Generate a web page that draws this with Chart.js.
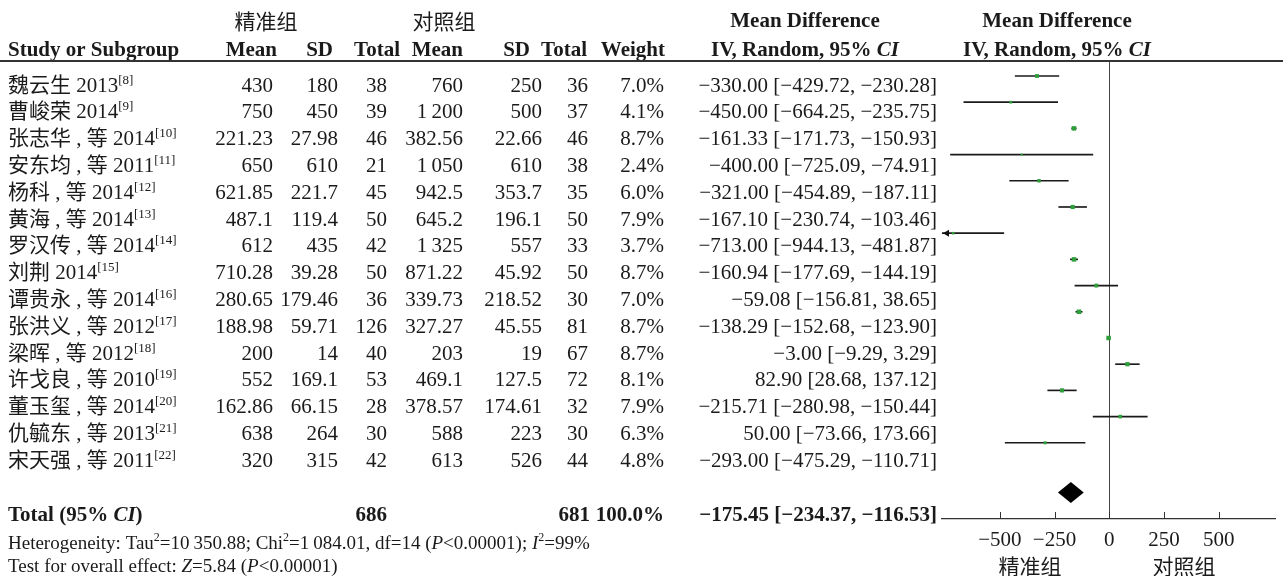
<!DOCTYPE html>
<html>
<head>
<meta charset="utf-8">
<script src="https://cdn.jsdelivr.net/npm/chart.js@4.4.1/dist/chart.umd.min.js"></script>
<style>
  html, body { margin: 0; padding: 0; background: #fff; }
  canvas { display: block; }
</style>
</head>
<body>
<canvas id="forest" width="1283" height="576"></canvas>
<script>
// ---- study data ----
const studies = ['魏云生 2013', '曹峻荣 2014', '张志华 , 等 2014', '安东均 , 等 2011', '杨科 , 等 2014',
  '黄海 , 等 2014', '罗汉传 , 等 2014', '刘荆 2014', '谭贵永 , 等 2014', '张洪义 , 等 2012',
  '梁晖 , 等 2012', '许戈良 , 等 2010', '董玉玺 , 等 2014', '仇毓东 , 等 2013', '宋天强 , 等 2011'];
const refs = [8, 9, 10, 11, 12, 13, 14, 15, 16, 17, 18, 19, 20, 21, 22];
const expMean = [430, 750, 221.23, 650, 621.85, 487.1, 612, 710.28, 280.65, 188.98, 200, 552, 162.86, 638, 320];
const expSD = [180, 450, 27.98, 610, 221.7, 119.4, 435, 39.28, 179.46, 59.71, 14, 169.1, 66.15, 264, 315];
const expN = [38, 39, 46, 21, 45, 50, 42, 50, 36, 126, 40, 53, 28, 30, 42];
const ctlMean = [760, 1200, 382.56, 1050, 942.5, 645.2, 1325, 871.22, 339.73, 327.27, 203, 469.1, 378.57, 588, 613];
const ctlSD = [250, 500, 22.66, 610, 353.7, 196.1, 557, 45.92, 218.52, 45.55, 19, 127.5, 174.61, 223, 526];
const ctlN = [36, 37, 46, 38, 35, 50, 33, 50, 30, 81, 67, 72, 32, 30, 44];
const weights = [7.0, 4.1, 8.7, 2.4, 6.0, 7.9, 3.7, 8.7, 7.0, 8.7, 8.7, 8.1, 7.9, 6.3, 4.8];
const meanDiff = [-330.00, -450.00, -161.33, -400.00, -321.00, -167.10, -713.00, -160.94, -59.08, -138.29, -3.00, 82.90, -215.71, 50.00, -293.00];
const ciLow = [-429.72, -664.25, -171.73, -725.09, -454.89, -230.74, -944.13, -177.69, -156.81, -152.68, -9.29, 28.68, -280.98, -73.66, -475.29];
const ciHigh = [-230.28, -235.75, -150.93, -74.91, -187.11, -103.46, -481.87, -144.19, 38.65, -123.90, 3.29, 137.12, -150.44, 173.66, -110.71];

// ---- pooled result ----
const totalExpN = 686;
const totalCtlN = 681;
const totalWeight = 100.0;
const pooledMD = -175.45;
const pooledLow = -234.37;
const pooledHigh = -116.53;
const tau2 = 10350.88;
const chi2 = 1084.01;
const dfHet = 14;
const i2 = 99;
const zValue = 5.84;

// ---- axis ----
const axisTicks = [-500, -250, 0, 250, 500];
const groupLabels = ['精准组', '对照组'];

// ---- layout ----
const SERIF = '"Liberation Serif", "Noto Sans CJK SC", serif';
const CJK = '"Noto Sans CJK SC", sans-serif';
const ROW_Y0 = 91.5, ROW_STEP = 26.8;
const COL = { mean1: 273, sd1: 338, n1: 387, mean2: 463, sd2: 542, n2: 588, w: 664, md: 937 };
const TOTAL_ROW_POS = 15.9;   // pooled diamond position on the row axis
const GREEN = '#2f9f3c';

const MINUS = '\u2212';
function groupThousands(s) {
  const [ip, dp] = s.split('.');
  const g = ip.length > 3 ? ip.slice(0, ip.length - 3) + '\u2009' + ip.slice(-3) : ip;
  return dp !== undefined ? g + '.' + dp : g;
}
function fmtPlain(v) { return groupThousands(String(v)); }
function fmtSigned(v, d) { return (v < 0 ? MINUS : '') + groupThousands(Math.abs(v).toFixed(d)); }
function fmtCI(m, lo, hi) { return `${fmtSigned(m, 2)} [${fmtSigned(lo, 2)}, ${fmtSigned(hi, 2)}]`; }

// draws a run of differently styled text segments
function drawRuns(ctx, parts, x, y, align) {
  let w = 0;
  parts.forEach(p => { ctx.font = p.f; p.w = ctx.measureText(p.t).width; w += p.w; });
  let cx = align === 'right' ? x - w : align === 'center' ? x - w / 2 : x;
  ctx.textAlign = 'left';
  ctx.textBaseline = 'alphabetic';
  parts.forEach(p => { ctx.font = p.f; ctx.fillText(p.t, cx, y + (p.dy || 0)); cx += p.w; });
}
function txt(ctx, t, x, y, font, align) { drawRuns(ctx, [{ t, f: font }], x, y, align); }

const fRow = `21px ${SERIF}`;
const fSup = `13px ${SERIF}`;
const fBold = `bold 21px ${SERIF}`;
const fBoldIt = `italic bold 21px ${SERIF}`;
const fFoot = `19px ${SERIF}`;
const fFootIt = `italic 19px ${SERIF}`;
const fFootSup = `12px ${SERIF}`;

const tablePlugin = {
  id: 'forestTable',
  beforeDraw(chart) {
    const ctx = chart.ctx;
    ctx.save();
    ctx.fillStyle = '#fff';
    ctx.fillRect(0, 0, chart.width, chart.height);
    ctx.restore();
  },
  afterDraw(chart) {
    const ctx = chart.ctx;
    const area = chart.chartArea;
    const xs = chart.scales.x;
    ctx.save();
    ctx.fillStyle = '#1a1a1a';

    // header, first line
    ctx.font = `21px ${CJK}`;
    ctx.textAlign = 'center'; ctx.textBaseline = 'middle';
    ctx.fillText(groupLabels[0], 266, 21);
    ctx.fillText(groupLabels[1], 444, 21);
    txt(ctx, 'Mean Difference', 805, 27, fBold, 'center');
    txt(ctx, 'Mean Difference', 1057, 27, fBold, 'center');

    // header, second line
    const hy = 56;
    txt(ctx, 'Study or Subgroup', 8, hy, fBold, 'left');
    txt(ctx, 'Mean', 277, hy, fBold, 'right');
    txt(ctx, 'SD', 333, hy, fBold, 'right');
    txt(ctx, 'Total', 400, hy, fBold, 'right');
    txt(ctx, 'Mean', 463, hy, fBold, 'right');
    txt(ctx, 'SD', 530, hy, fBold, 'right');
    txt(ctx, 'Total', 587, hy, fBold, 'right');
    txt(ctx, 'Weight', 665, hy, fBold, 'right');
    const ivHead = [{ t: 'IV, Random, 95% ', f: fBold }, { t: 'CI', f: fBoldIt }];
    drawRuns(ctx, ivHead.map(p => ({ ...p })), 805, hy, 'center');
    drawRuns(ctx, ivHead.map(p => ({ ...p })), 1057, hy, 'center');

    // header rule
    ctx.strokeStyle = '#333';
    ctx.lineWidth = 2;
    ctx.beginPath(); ctx.moveTo(0, 61); ctx.lineTo(chart.width, 61); ctx.stroke();

    // study rows
    studies.forEach((name, i) => {
      const y = ROW_Y0 + ROW_STEP * i;
      drawRuns(ctx, [{ t: name, f: fRow }, { t: `[${refs[i]}]`, f: fSup, dy: -8 }], 8, y, 'left');
      txt(ctx, fmtPlain(expMean[i]), COL.mean1, y, fRow, 'right');
      txt(ctx, fmtPlain(expSD[i]), COL.sd1, y, fRow, 'right');
      txt(ctx, String(expN[i]), COL.n1, y, fRow, 'right');
      txt(ctx, fmtPlain(ctlMean[i]), COL.mean2, y, fRow, 'right');
      txt(ctx, fmtPlain(ctlSD[i]), COL.sd2, y, fRow, 'right');
      txt(ctx, String(ctlN[i]), COL.n2, y, fRow, 'right');
      txt(ctx, weights[i].toFixed(1) + '%', COL.w, y, fRow, 'right');
      txt(ctx, fmtCI(meanDiff[i], ciLow[i], ciHigh[i]), COL.md, y, fRow, 'right');
    });

    // total row
    const ty = 521;
    drawRuns(ctx, [{ t: 'Total (95% ', f: fBold }, { t: 'CI', f: fBoldIt }, { t: ')', f: fBold }], 8, ty, 'left');
    txt(ctx, String(totalExpN), COL.n1, ty, fBold, 'right');
    txt(ctx, String(totalCtlN), COL.n2 + 2, ty, fBold, 'right');
    txt(ctx, totalWeight.toFixed(1) + '%', COL.w, ty, fBold, 'right');
    txt(ctx, fmtCI(pooledMD, pooledLow, pooledHigh), COL.md, ty, fBold, 'right');

    // heterogeneity and overall effect
    drawRuns(ctx, [
      { t: 'Heterogeneity: Tau', f: fFoot }, { t: '2', f: fFootSup, dy: -8 },
      { t: '=' + fmtPlain(tau2) + '; Chi', f: fFoot }, { t: '2', f: fFootSup, dy: -8 },
      { t: '=' + fmtPlain(chi2) + ', df=' + dfHet + ' (', f: fFoot }, { t: 'P', f: fFootIt },
      { t: '<0.00001); ', f: fFoot }, { t: 'I', f: fFootIt }, { t: '2', f: fFootSup, dy: -8 },
      { t: '=' + i2 + '%', f: fFoot }
    ], 8, 549, 'left');
    drawRuns(ctx, [
      { t: 'Test for overall effect: ', f: fFoot }, { t: 'Z', f: fFootIt },
      { t: '=' + zValue.toFixed(2) + ' (', f: fFoot }, { t: 'P', f: fFootIt }, { t: '<0.00001)', f: fFoot }
    ], 8, 572, 'left');

    // axis tick marks pointing up into the plot
    ctx.strokeStyle = '#333';
    ctx.lineWidth = 1;
    xs.ticks.forEach(t => {
      const px = Math.round(xs.getPixelForValue(t.value)) + 0.5;
      ctx.beginPath(); ctx.moveTo(px, area.bottom); ctx.lineTo(px, area.bottom - 7); ctx.stroke();
    });

    // group captions under the axis
    ctx.font = `21px ${CJK}`;
    ctx.fillStyle = '#1a1a1a';
    ctx.textAlign = 'center'; ctx.textBaseline = 'middle';
    ctx.fillText(groupLabels[0], 1030, 566);
    ctx.fillText(groupLabels[1], 1184, 566);
    ctx.restore();
  },
  afterDatasetsDraw(chart) {
    const ctx = chart.ctx;
    const area = chart.chartArea;
    const xs = chart.scales.x, ys = chart.scales.y;
    ctx.save();
    // arrows where a confidence interval runs off the axis
    ctx.fillStyle = '#111';
    ciLow.forEach((lo, i) => {
      const y = ys.getPixelForValue(i);
      if (lo < xs.min) {
        const x = area.left + 1;
        ctx.beginPath();
        ctx.moveTo(x, y); ctx.lineTo(x + 6, y - 3.5); ctx.lineTo(x + 6, y + 3.5); ctx.closePath();
        ctx.fill();
      }
      if (ciHigh[i] > xs.max) {
        const x = area.right - 1;
        ctx.beginPath();
        ctx.moveTo(x, y); ctx.lineTo(x - 6, y - 3.5); ctx.lineTo(x - 6, y + 3.5); ctx.closePath();
        ctx.fill();
      }
    });
    // pooled diamond
    const yD = ys.getPixelForValue(TOTAL_ROW_POS);
    ctx.fillStyle = '#000';
    ctx.beginPath();
    ctx.moveTo(xs.getPixelForValue(pooledLow), yD);
    ctx.lineTo(xs.getPixelForValue(pooledMD), yD - 10.5);
    ctx.lineTo(xs.getPixelForValue(pooledHigh), yD);
    ctx.lineTo(xs.getPixelForValue(pooledMD), yD + 10.5);
    ctx.closePath();
    ctx.fill();
    ctx.restore();
  }
};

new Chart(document.getElementById('forest'), {
  type: 'scatter',
  data: {
    datasets: [
      {
        type: 'scatter',
        label: 'Mean difference',
        data: meanDiff.map((v, i) => ({ x: v, y: i })),
        pointStyle: 'rect',
        pointRadius: weights.map(w => (1.2 + w * 0.38) / Math.SQRT2),
        backgroundColor: GREEN,
        borderWidth: 0,
        order: 1
      },
      {
        type: 'bar',
        label: '95% CI',
        indexAxis: 'y',
        data: ciLow.map((lo, i) => ({ x: [lo, ciHigh[i]], y: i })),
        barThickness: 1,
        backgroundColor: '#1a1a1a',
        borderWidth: 0,
        grouped: false,
        clip: 0,
        order: 2
      }
    ]
  },
  options: {
    responsive: false,
    animation: false,
    events: [],
    layout: { padding: { left: 942, right: 8, top: 62, bottom: 0 } },
    plugins: { legend: { display: false }, tooltip: { enabled: false } },
    scales: {
      x: {
        type: 'linear',
        min: -764,
        max: 757,
        offset: false,
        afterBuildTicks: s => { s.ticks = axisTicks.map(v => ({ value: v })); },
        afterFit: s => { s.height = 57; },
        grid: {
          offset: false,
          drawTicks: false,
          drawOnChartArea: true,
          color: c => (c.tick && c.tick.value === 0 ? '#444' : 'rgba(0,0,0,0)'),
          lineWidth: 1
        },
        border: { display: true, color: '#333', width: 1.3 },
        ticks: {
          padding: 9,
          color: '#1a1a1a',
          font: { family: 'Liberation Serif', size: 21 },
          callback: v => (v < 0 ? MINUS + Math.abs(v) : String(v))
        }
      },
      y: {
        type: 'linear',
        display: false,
        reverse: true,
        offset: false,
        grid: { offset: false },
        min: -0.534,
        max: 16.909
      }
    }
  },
  plugins: [tablePlugin]
});
</script>
</body>
</html>
